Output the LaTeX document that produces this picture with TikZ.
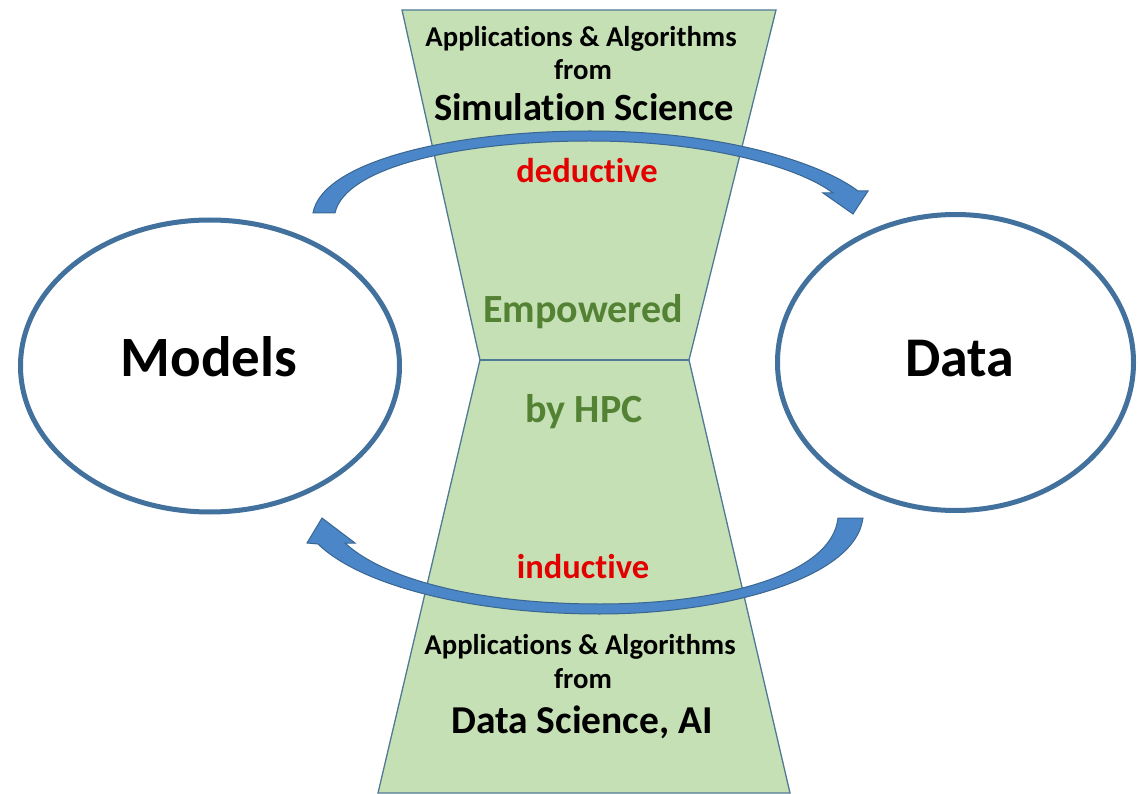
\documentclass[tikz,border=0pt]{standalone}
\usepackage{fontspec}
\setmainfont{Carlito}[Ligatures={NoCommon}]
\usetikzlibrary{shapes.geometric}
\definecolor{trapfill}{HTML}{C5E0B4}
\definecolor{trapline}{HTML}{4E7A96}
\definecolor{ellline}{HTML}{41719C}
\definecolor{arrfill}{HTML}{4A86C8}
\definecolor{arrline}{HTML}{3A6690}
\definecolor{redtxt}{HTML}{E30000}
\definecolor{greentxt}{HTML}{548235}
\begin{document}
\begin{tikzpicture}[x=1pt,y=-1pt,
  txt/.style={anchor=base, inner sep=0pt, font=\bfseries\fontsize{#1}{#1}\selectfont},
  trap/.style={fill=trapfill, draw=trapline, line width=1.3pt},
  blob/.style={draw=ellline, line width=5pt, ellipse, inner sep=0pt},
  blockarrow/.style={fill=arrfill, draw=arrline, line width=1pt, line join=miter}]
\useasboundingbox (0,0) rectangle (1138,794);
\fill[white] (0,0) rectangle (1138,794);
% hourglass
\path[trap] (402,10) -- (776,10) -- (689,360) -- (480,360) -- cycle;
\path[trap] (480,360) -- (689,360) -- (790,793) -- (378,793) -- cycle;
\draw[trapline, line width=2.5pt] (480,360) -- (689,360);
% ellipses
\node[blob, minimum width=379pt, minimum height=292pt] (models) at (210,366) {};
\node[blob, minimum width=356pt, minimum height=296pt] (data) at (955.5,362.5) {};
% block arrows
\path[blockarrow] (313,213) .. controls (322,162) and (450,131) .. (590,131)
  .. controls (720,131) and (820,162) .. (858,191) -- (868,191) -- (853,214) -- (823,193) -- (833,193)
  .. controls (800,168) and (710,141) .. (590,141)
  .. controls (460,141) and (345,167) .. (335,213) -- cycle;
\path[blockarrow] (863,518) .. controls (855,580) and (720,614) .. (600,614)
  .. controls (470,614) and (360,585) .. (318,544) -- (307,543) -- (322,518) -- (355,543) -- (345,543)
  .. controls (385,580) and (480,604) .. (600,604)
  .. controls (720,604) and (832,575) .. (838,518) -- cycle;
% texts
\node[txt=28.7] (t1) at (581,47) {Applications \& Algorithms};
\node[txt=28.7] (t2) at (583,80) {from};
\node[txt=38.5] (t3) at (584,121) {Simulation Science};
\node[txt=34.5, text=redtxt] (ded) at (587,183) {deductive};
\node[txt=40, text=greentxt] (emp) at (583,323) {Empowered};
\node[txt=40, text=greentxt] (hpc) at (584,422) {by HPC};
\node[txt=34.5, text=redtxt] (ind) at (583,578) {inductive};
\node[txt=28.7] (b1) at (580,654) {Applications \& Algorithms};
\node[txt=28.7] (b2) at (583,688) {from};
\node[txt=39.5] (b3) at (582,733) {Data Science, AI};
\node[txt=57] (ml) at (209,377) {Models};
\node[txt=56] (dl) at (960,377) {Data};
\end{tikzpicture}
\end{document}
